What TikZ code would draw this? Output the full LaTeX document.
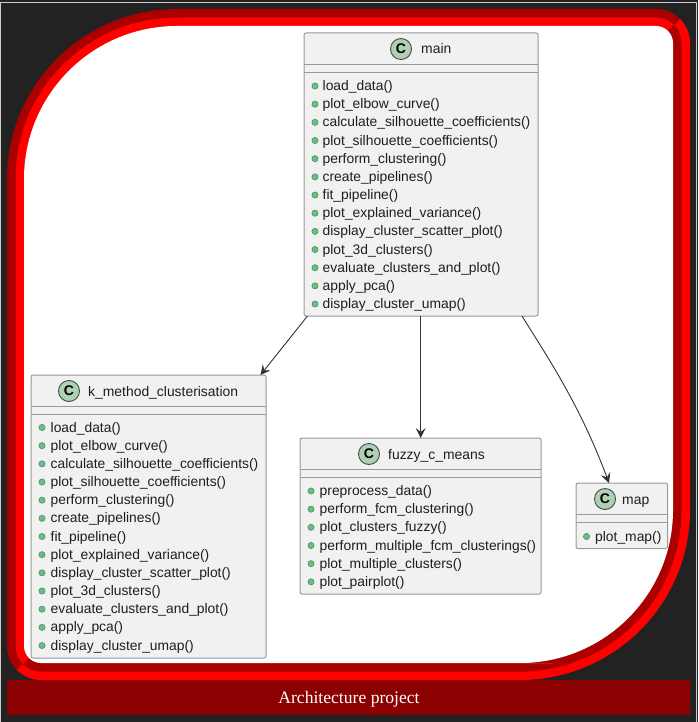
\documentclass[tikz,border=0pt]{standalone}
\usepackage{fontspec}
\setmainfont{Liberation Sans}
\newfontfamily\titlefont{Liberation Serif}
\usetikzlibrary{arrows.meta}
\definecolor{pagebg}{HTML}{222222}
\definecolor{edgeline}{HTML}{CCCCCC}
\definecolor{grooved}{HTML}{AA0000}
\definecolor{groovel}{HTML}{FF0000}
\definecolor{bannerc}{HTML}{8B0000}
\definecolor{boxfill}{HTML}{F1F1F1}
\definecolor{boxline}{HTML}{999999}
\definecolor{spotfill}{HTML}{ADD1B2}
\definecolor{spotline}{HTML}{4A4A4A}
\definecolor{bulletfill}{HTML}{6DBB85}
\definecolor{bulletline}{HTML}{3E9A62}
\definecolor{inkc}{HTML}{1E1E1E}
\definecolor{connc}{HTML}{333333}
\newcommand{\frameshape}[3]{% inset, big radius, small radius
  (7+#1,400) [rounded corners=#2pt] -- (7+#1,9+#1) -- (400,9+#1)
  [rounded corners=#3pt] -- (690-#1,9+#1) -- (690-#1,400)
  [rounded corners=#2pt] -- (690-#1,680-#1) -- (400,680-#1)
  [rounded corners=#3pt] -- (7+#1,680-#1) -- (7+#1,400) [sharp corners] -- cycle}
\tikzset{
  classbox/.style={draw=boxline,fill=boxfill,line width=1pt,rounded corners=2pt,
    inner sep=0pt,outer sep=0pt,anchor=north west},
  sepline/.style={draw=boxline,line width=1pt},
  spot/.style={circle,draw=spotline,fill=spotfill,line width=.9pt,minimum size=21pt,
    inner sep=0pt,font=\bfseries\fontsize{14}{14}\selectfont,text=black},
  classname/.style={anchor=base west,inner sep=0pt,font=\fontsize{13.9}{15}\selectfont,text=inkc},
  member/.style={anchor=base west,inner sep=0pt,font=\fontsize{13.85}{15}\selectfont,text=inkc},
  bullet/.style={circle,draw=bulletline,fill=bulletfill,line width=.6pt,minimum size=6.2pt,inner sep=0pt},
  conn/.style={draw=connc,line width=.9pt,-{Stealth[length=10pt,width=10pt,inset=4pt]}},
}
\begin{document}
\begin{tikzpicture}[x=1pt,y=-1pt]
\useasboundingbox (0,0) rectangle (698,722);
\fill[pagebg] (0,0) rectangle (698,722);
\draw[edgeline,line width=1pt] (0.5,722) -- (0.5,2.5) -- (696,2.5) -- (696,722);
% groove frame
\begin{scope}
  \clip (0,0) -- (698,0) -- (690,9) -- (673,26) -- (24,663) -- (7,680) -- (0,722) -- cycle;
  \fill[grooved] \frameshape{0}{170}{34};
  \fill[groovel] \frameshape{8.5}{161.5}{25.5};
\end{scope}
\begin{scope}
  \clip (698,0) -- (690,9) -- (673,26) -- (24,663) -- (7,680) -- (0,722) -- (698,722) -- cycle;
  \fill[groovel] \frameshape{0}{170}{34};
  \fill[grooved] \frameshape{8.5}{161.5}{25.5};
\end{scope}
\fill[white] \frameshape{17}{153}{17};
% banner
\node[fill=bannerc,minimum width=683pt,minimum height=35pt,inner sep=0pt,outer sep=0pt,
  anchor=north west] (banner) at (7,680) {};
\node[text=white,inner sep=0pt,font=\titlefont\fontsize{17.6}{19}\selectfont] (bannertitle) at (349,699.5) {Architecture project};
% main
\node[classbox,minimum width=234pt,minimum height=283pt] (main) at (304,33) {};
\draw[sepline] (304,64.5) -- (538,64.5) (304,72.5) -- (538,72.5);
\node[spot] (mainspot) at (401,49) {C};
\node[classname] (mainname) at (421,54) {main};
\foreach \t [count=\i] in {load\_data(),plot\_elbow\_curve(),calculate\_silhouette\_coefficients(),plot\_silhouette\_coefficients(),perform\_clustering(),create\_pipelines(),fit\_pipeline(),plot\_explained\_variance(),display\_cluster\_scatter\_plot(),plot\_3d\_clusters(),evaluate\_clusters\_and\_plot(),apply\_pca(),display\_cluster\_umap()}{
  \node[bullet] (mainb\i) at (315,{86+(\i-1)*18.17}) {};
  \node[member] (mainm\i) at (322.5,{90.5+(\i-1)*18.17}) {\t};
}
% k_method_clusterisation
\node[classbox,minimum width=235pt,minimum height=283pt] (kmc) at (31,375) {};
\draw[sepline] (31,406.5) -- (266,406.5) (31,414.5) -- (266,414.5);
\node[spot] (kmcspot) at (69,391) {C};
\node[classname] (kmcname) at (88,396) {k\_method\_clusterisation};
\foreach \t [count=\i] in {load\_data(),plot\_elbow\_curve(),calculate\_silhouette\_coefficients(),plot\_silhouette\_coefficients(),perform\_clustering(),create\_pipelines(),fit\_pipeline(),plot\_explained\_variance(),display\_cluster\_scatter\_plot(),plot\_3d\_clusters(),evaluate\_clusters\_and\_plot(),apply\_pca(),display\_cluster\_umap()}{
  \node[bullet] (kmcb\i) at (42,{427.5+(\i-1)*18.17}) {};
  \node[member] (kmcm\i) at (50.5,{432+(\i-1)*18.17}) {\t};
}
% fuzzy_c_means
\node[classbox,minimum width=241pt,minimum height=156pt] (fcm) at (300,438) {};
\draw[sepline] (300,469.5) -- (541,469.5) (300,477.5) -- (541,477.5);
\node[spot] (fcmspot) at (369,454) {C};
\node[classname] (fcmname) at (388,459) {fuzzy\_c\_means};
\foreach \t [count=\i] in {preprocess\_data(),perform\_fcm\_clustering(),plot\_clusters\_fuzzy(),perform\_multiple\_fcm\_clusterings(),plot\_multiple\_clusters(),plot\_pairplot()}{
  \node[bullet] (fcmb\i) at (311,{491+(\i-1)*18.17}) {};
  \node[member] (fcmm\i) at (319.5,{495.5+(\i-1)*18.17}) {\t};
}
% map
\node[classbox,minimum width=91.5pt,minimum height=65.5pt] (mapc) at (576,483) {};
\draw[sepline] (576,514) -- (667.5,514) (576,522) -- (667.5,522);
\node[spot] (mapspot) at (605,499) {C};
\node[classname] (mapname) at (622,504) {map};
\node[bullet] (mapb1) at (586.5,536.5) {};
\node[member] (mapm1) at (595,541) {plot\_map()};
% connectors
\draw[conn] ([xshift=3.5pt]main.south west) -- ([xshift=-5.5pt]kmc.north east);
\draw[conn] ([xshift=116.7pt]main.south west) -- ([xshift=120.7pt]fcm.north west);
\draw[conn] ([xshift=218pt]main.south west) .. controls (548,358) and (580,405) .. ([xshift=33pt]mapc.north west);
\end{tikzpicture}
\end{document}
